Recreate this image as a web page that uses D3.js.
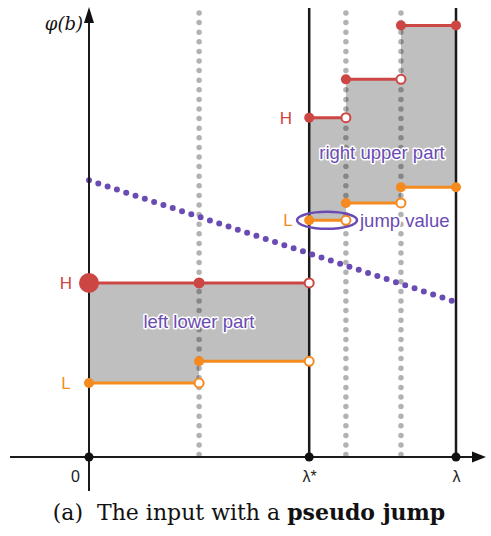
<!DOCTYPE html>
<html>
<head>
<meta charset="utf-8">
<script src="https://cdn.jsdelivr.net/npm/d3@7"></script>
<style>
  body { margin: 0; background: #fff; }
  .lbl { font-family: "Liberation Sans", Arial, sans-serif; }
  .halo { paint-order: stroke; stroke: #fff; stroke-width: 3px; stroke-linejoin: round; }
</style>
</head>
<body>
<script>
// 画布
var width = 491, height = 536;

// 横轴上的位置 (0, λ*, λ) 和虚线位置
var xTicks = [0, 6, 10];
var xTickLabels = ["0", "λ*", "λ"];
var dottedX = [3, 7, 8.5];

// H (上) 和 L (下) 两条阶梯：[起点, 终点, 值]
var stepStart = [0, 3, 6, 7, 8.5];
var stepEnd   = [3, 6, 7, 8.5, 10];
var highVals  = [10, 10, 19.5, 21.7, 24.8];
var lowVals   = [4.25, 5.5, 13.6, 14.6, 15.5];

// 紫色虚线的两个端点
var lineX = [0, 10];
var lineY = [15.9, 8.9];

var red = "#cc4644", orange = "#f58a1f", purple = "#6a4bb3";

var svg = d3.select("body").append("svg")
  .attr("width", width).attr("height", height);

var x = d3.scaleLinear().domain([0, 10]).range([89, 456]);
var y = d3.scaleLinear().domain([0, 25.8]).range([457, 8]);

var steps = stepStart.map(function(d, i) {
  return {x0: d, x1: stepEnd[i], hi: highVals[i], lo: lowVals[i], last: i === stepStart.length - 1};
});

// 灰色区域
svg.selectAll(".fill").data(steps).enter().append("rect")
  .attr("x", function(d) { return x(d.x0); })
  .attr("width", function(d) { return x(d.x1) - x(d.x0); })
  .attr("y", function(d) { return y(d.hi); })
  .attr("height", function(d) { return y(d.lo) - y(d.hi); })
  .attr("fill", "#bfbfbf");

// 灰色点状竖线
svg.selectAll(".dotv").data(dottedX).enter().append("line")
  .attr("x1", x).attr("x2", x)
  .attr("y1", 13).attr("y2", y(0))
  .attr("stroke", "rgba(0,0,0,0.3)")
  .attr("stroke-width", 5.5)
  .attr("stroke-linecap", "round")
  .attr("stroke-dasharray", "0 9.6");

// 黑色竖线 λ*, λ
svg.selectAll(".solidv").data(xTicks.slice(1)).enter().append("line")
  .attr("x1", x).attr("x2", x)
  .attr("y1", 8).attr("y2", y(0))
  .attr("stroke", "#1a1a1a").attr("stroke-width", 2.5);

// 紫色点线
svg.append("line")
  .attr("x1", x(lineX[0])).attr("y1", y(lineY[0]))
  .attr("x2", x(lineX[1])).attr("y2", y(lineY[1]))
  .attr("stroke", purple).attr("stroke-width", 6)
  .attr("stroke-linecap", "round")
  .attr("stroke-dasharray", "0 9.8");

// x轴
var xAxis = d3.axisBottom(x).tickValues(xTicks).tickSize(0)
  .tickFormat(function(d, i) { return xTickLabels[i]; });
var gx = svg.append("g").attr("transform", "translate(0," + y(0) + ")").call(xAxis);
gx.select(".domain").remove();
gx.selectAll("text")
  .attr("class", "lbl")
  .attr("font-size", 16).attr("fill", "#222")
  .attr("dy", "1.35em")
  .attr("dx", function(d) { return d === 0 ? -14 : 0; });

svg.append("line")
  .attr("x1", 10).attr("x2", 476).attr("y1", y(0)).attr("y2", y(0))
  .attr("stroke", "#1a1a1a").attr("stroke-width", 2);
svg.append("path")
  .attr("d", "M486," + y(0) + " L472," + (y(0) - 5.5) + " L472," + (y(0) + 5.5) + " Z")
  .attr("fill", "#111");

// y轴
svg.append("line")
  .attr("x1", x(0)).attr("x2", x(0)).attr("y1", 18).attr("y2", 491)
  .attr("stroke", "#1a1a1a").attr("stroke-width", 2);
svg.append("path")
  .attr("d", "M" + x(0) + ",7 L" + (x(0) - 5) + ",23 L" + (x(0) + 5) + ",23 Z")
  .attr("fill", "#111");
svg.append("text")
  .attr("x", 83).attr("y", 30).attr("text-anchor", "end")
  .attr("font-family", "'DejaVu Serif', serif").attr("font-style", "italic")
  .attr("font-size", 18).attr("fill", "#111")
  .text("φ(b)");

// 横轴上的黑点
svg.selectAll(".axdot").data(xTicks).enter().append("circle")
  .attr("cx", x).attr("cy", y(0)).attr("r", 4.5).attr("fill", "#111");

// 阶梯线
function drawSteps(key, color) {
  svg.selectAll(".seg-" + key).data(steps).enter().append("line")
    .attr("x1", function(d) { return x(d.x0); })
    .attr("x2", function(d) { return x(d.x1); })
    .attr("y1", function(d) { return y(d[key]); })
    .attr("y2", function(d) { return y(d[key]); })
    .attr("stroke", color).attr("stroke-width", 3);
  // 右端空心
  svg.selectAll(".open-" + key).data(steps.filter(function(d) { return !d.last; })).enter().append("circle")
    .attr("cx", function(d) { return x(d.x1); })
    .attr("cy", function(d) { return y(d[key]); })
    .attr("r", 4.5).attr("fill", "#fff").attr("stroke", color).attr("stroke-width", 2);
  // 左端实心
  svg.selectAll(".closed-" + key).data(steps).enter().append("circle")
    .attr("cx", function(d) { return x(d.x0); })
    .attr("cy", function(d) { return y(d[key]); })
    .attr("r", 5).attr("fill", color);
  var last = steps[steps.length - 1];
  svg.append("circle").attr("cx", x(last.x1)).attr("cy", y(last[key])).attr("r", 5).attr("fill", color);
}
drawSteps("hi", red);
drawSteps("lo", orange);

// 大红点
svg.append("circle").attr("cx", x(0)).attr("cy", y(highVals[0])).attr("r", 10).attr("fill", red);

// H / L 标签
svg.append("text").attr("class", "lbl").attr("x", 66).attr("y", y(highVals[0]) + 6)
  .attr("text-anchor", "middle").attr("font-size", 17).attr("fill", red).text("H");
svg.append("text").attr("class", "lbl").attr("x", 66).attr("y", y(lowVals[0]) + 6)
  .attr("text-anchor", "middle").attr("font-size", 17).attr("fill", orange).text("L");
svg.append("text").attr("class", "lbl").attr("x", 286).attr("y", y(highVals[2]) + 6)
  .attr("text-anchor", "middle").attr("font-size", 17).attr("fill", red).text("H");
svg.append("text").attr("class", "lbl").attr("x", 288).attr("y", y(lowVals[2]) + 6)
  .attr("text-anchor", "middle").attr("font-size", 17).attr("fill", orange).text("L");

// 椭圆 (jump value)
svg.append("ellipse")
  .attr("cx", (x(6) + x(7)) / 2 - 0.5).attr("cy", y(lowVals[2]))
  .attr("rx", 30).attr("ry", 8.5)
  .attr("fill", "none").attr("stroke", purple).attr("stroke-width", 2.5);

// 紫色文字
svg.append("text").attr("class", "lbl halo").attr("x", 199).attr("y", 328)
  .attr("text-anchor", "middle").attr("font-size", 18.5).attr("fill", purple).text("left lower part");
svg.append("text").attr("class", "lbl halo").attr("x", 382).attr("y", 159)
  .attr("text-anchor", "middle").attr("font-size", 18.5).attr("fill", purple).text("right upper part");
svg.append("text").attr("class", "lbl halo").attr("x", 360).attr("y", 227)
  .attr("font-size", 18.5).attr("fill", purple).text("jump value");

// 图注
var cap = svg.append("text").attr("x", 249).attr("y", 520).attr("text-anchor", "middle")
  .attr("font-family", "'DejaVu Serif', serif").attr("font-size", 22).attr("fill", "#111");
cap.append("tspan").text("(a)\u00a0\u00a0The input with a ");
cap.append("tspan").attr("font-weight", "bold").text("pseudo jump");
</script>
</body>
</html>
